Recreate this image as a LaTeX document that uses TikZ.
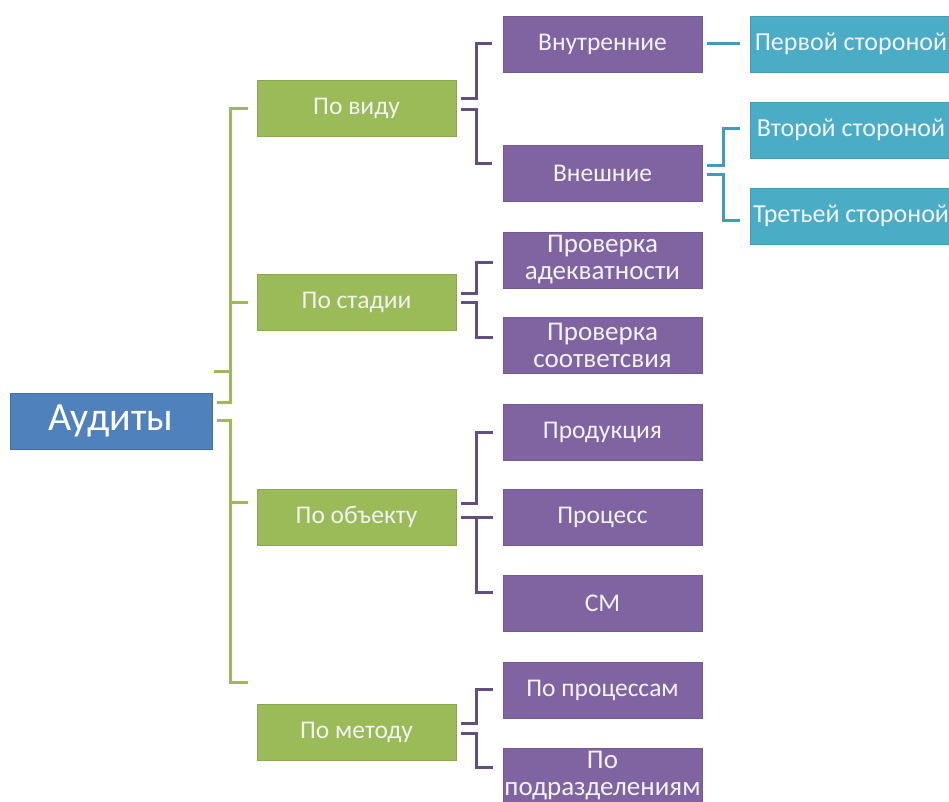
\documentclass[tikz,border=0pt]{standalone}
\usepackage{fontspec}
\setmainfont{Carlito}
\usepackage{tikz}
\usetikzlibrary{positioning}
\usetikzlibrary{calc}
\definecolor{rootblue}{HTML}{4F81BD}
\definecolor{kindgreen}{HTML}{9BBB59}
\definecolor{subpurple}{HTML}{8064A2}
\definecolor{leafteal}{HTML}{4BACC6}
\definecolor{purpleline}{HTML}{634E82}
\definecolor{tealline}{HTML}{3F9DB6}
\tikzstyle{rootbox}=[rectangle,fill=rootblue,draw=rootblue!85!black,text=white,minimum width=202pt,minimum height=56pt,inner sep=0pt,font=\fontsize{40}{46}\selectfont]
\tikzstyle{kindbox}=[rectangle,fill=kindgreen,draw=kindgreen!90!black,text=white!95!black,minimum width=199pt,minimum height=56pt,inner sep=0pt,font=\fontsize{25.5}{28}\selectfont]
\tikzstyle{subbox}=[rectangle,fill=subpurple,draw=subpurple!90!black,text=white!95!black,minimum width=199pt,minimum height=56pt,inner sep=0pt,align=center,font=\fontsize{25.5}{28}\selectfont]
\tikzstyle{twoline}=[font=\fontsize{27}{27}\selectfont]
\tikzstyle{leafbox}=[rectangle,fill=leafteal,draw=leafteal!90!black,text=white!95!black,minimum width=202pt,minimum height=56pt,inner sep=0pt,font=\fontsize{26}{28}\selectfont]
\tikzstyle{greenedge} = [draw,line width=3pt,kindgreen]
\tikzstyle{purpleedge} = [draw,line width=3pt,purpleline]
\tikzstyle{tealedge} = [draw,line width=3pt,tealline]

\begin{document}
\begin{tikzpicture}[x=1pt,y=-1pt]

    \useasboundingbox (0,0) rectangle (949,801);
    \clip (0,0) rectangle (949,801);

%root
    \node[rootbox] (audit) at (111,421) {Аудиты};
%layer 1
    \foreach \pos/\name/\label in {{(356.5,108)/vid/По виду}, {(356.5,302)/stad/По стадии},
        {(356.5,517)/obj/По объекту}, {(356.5,732)/met/По методу}}
        \node[kindbox] (\name) at \pos {\label};
%layer 2
    \foreach \pos/\name/\label in {{(602.5,44)/vnutr/Внутренние}, {(602.5,173)/vnesh/Внешние},
        {(602.5,432)/prod/Продукция}, {(602.5,517)/proc/Процесс}, {(602.5,603)/sm/СМ},
        {(602.5,690)/poproc/По процессам}}
        \node[subbox] (\name) at \pos {\label};
    \foreach \pos/\name/\label in {{(602.5,260)/adekv/{Проверка\\адекватности}},
        {(602.5,345)/sootv/{Проверка\\соответсвия}}, {(602.5,776)/podr/{По\\подразделениям}}}
        \node[subbox,twoline] (\name) at \pos {\label};
%layer 3
    \foreach \pos/\name/\label in {{(851,44)/perv/Первой стороной}, {(851,130)/vtor/Второй стороной},
        {(851,216)/tret/Третьей стороной}}
        \node[leafbox] (\name) at \pos {\label};

% Edges
    %layer 1
    \path[greenedge] ([shift={(5,-19)}]audit.east) -- ++(13,0) |- ([xshift=-9]vid.west);
    \path[greenedge] ([shift={(2,-50)}]audit.east) -- ++(16,0) |- ([xshift=-9]stad.west);
    \path[greenedge] ([shift={(5,-1)}]audit.east) -- ++(13,0) |- ([shift={(-9,-15)}]obj.west);
    \path[greenedge] ([shift={(5,-1)}]audit.east) -- ++(13,0) |- ([shift={(-9,-50)}]met.west);

    %layer 2
    \foreach \source/\dest/\from/\to in {vid/vnutr/{(5,-10)}/{(-11,-1)}, vid/vnesh/{(5,1)}/{(-11,-10)},
        stad/adekv/{(5,-9)}/{(-10,2)}, stad/sootv/{(5,0)}/{(-10,-8)},
        obj/prod/{(5,-14)}/{(-10,0)}, obj/sm/{(5,0)}/{(-10,-11)},
        met/poproc/{(5,-9)}/{(-10,-1)}, met/podr/{(5,1)}/{(-10,-9)}}
        \path[purpleedge] ([shift=\from]\source.east) -- ++(15,0) |- ([shift=\to]\dest.west);
    \path[purpleedge] ([xshift=5]obj.east) -- ([xshift=-10]proc.west);

    %layer 3
    \path[tealedge] ([shift={(5,-1)}]vnutr.east) -- ([shift={(-10,-1)}]perv.west);
    \path[tealedge] ([shift={(5,-8)}]vnesh.east) -- ++(16,0) |- ([shift={(-10,-2)}]vtor.west);
    \path[tealedge] ([shift={(5,1)}]vnesh.east) -- ++(16,0) |- ([shift={(-10,4)}]tret.west);

\end{tikzpicture}
\end{document}
